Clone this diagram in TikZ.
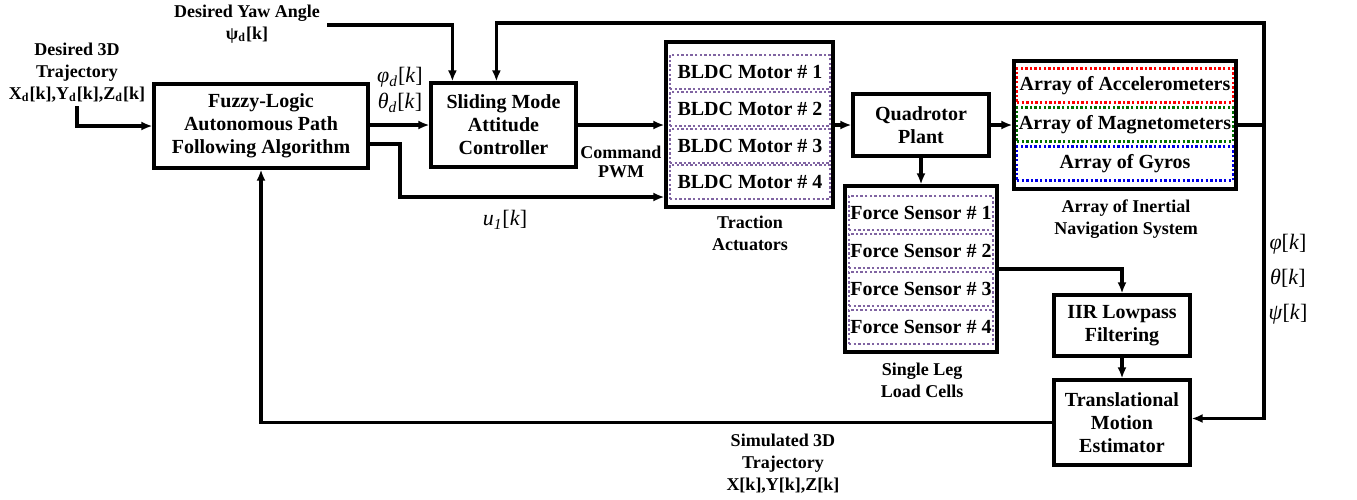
\documentclass[tikz,border=0pt]{standalone}
\usepackage{fontspec}
\setmainfont{Liberation Serif}
\usetikzlibrary{arrows.meta,calc}
\definecolor{purp}{RGB}{128,100,162}
\definecolor{dgreen}{RGB}{0,112,0}
\definecolor{dblue}{RGB}{0,0,230}
\newcommand{\myBx}{\bfseries\fontsize{10}{11.5}\selectfont}
\newcommand{\myLb}{\bfseries\fontsize{9}{11}\selectfont}
\newcommand{\myMa}{\fontsize{11}{13}\selectfont}
\newcommand{\iv}[1]{\textit{#1}}
\begin{document}
\begin{tikzpicture}[x=0.5pt,y=-0.5pt,
  blk/.style={draw, line width=1.6pt, align=center, inner sep=0pt, font=\myBx},
  cellbox/.style={draw=#1, line width=1.2pt, dash pattern=on 1.2pt off 1.1pt, minimum height=17pt, inner sep=0pt, font=\myBx},
  lbl/.style={align=center, inner sep=0pt, font=\myLb},
  mth/.style={align=center, inner sep=0pt, font=\myMa},
  wire/.style={line width=1.6pt},
  arr/.style={wire, -{Latex[length=5.5pt,width=4.5pt]}}]
\useasboundingbox (0,0) rectangle (1357,499);

% main blocks
\node[blk, minimum width=107pt, minimum height=42pt] (fuzzy) at (261,126) {Fuzzy-Logic\\Autonomous Path\\Following Algorithm};
\node[blk, minimum width=72.5pt, minimum height=42pt] (slide) at (503.5,125) {Sliding Mode\\Attitude\\Controller};
\node[blk, minimum width=83.5pt, minimum height=82.5pt] (bldc) at (749.5,124.5) {};
\node[cellbox=purp, minimum width=80pt] (m1) at (750,72) {BLDC Motor \# 1};
\node[cellbox=purp, minimum width=80pt] (m2) at (750,109) {BLDC Motor \# 2};
\node[cellbox=purp, minimum width=80pt] (m3) at (750,146) {BLDC Motor \# 3};
\node[cellbox=purp, minimum width=80pt] (m4) at (750,182) {BLDC Motor \# 4};
\node[blk, minimum width=68pt, minimum height=31pt] (plant) at (921,125) {Quadrotor\\Plant};
\node[blk, minimum width=111pt, minimum height=64pt] (ins) at (1125,125) {};
\node[cellbox=red, minimum width=108pt] (acc) at (1125,85.5) {Array of Accelerometers};
\node[cellbox=dgreen, minimum width=108pt] (mag) at (1125,124.5) {Array of Magnetometers};
\node[cellbox=dblue, minimum width=108pt] (gyr) at (1125,163.5) {Array of Gyros};
\node[blk, minimum width=76pt, minimum height=83pt] (force) at (921,269) {};
\node[cellbox=purp, minimum width=72pt] (f1) at (921,213) {Force Sensor \# 1};
\node[cellbox=purp, minimum width=72pt] (f2) at (921,251) {Force Sensor \# 2};
\node[cellbox=purp, minimum width=72pt] (f3) at (921,289) {Force Sensor \# 3};
\node[cellbox=purp, minimum width=72pt] (f4) at (921,327) {Force Sensor \# 4};
\node[blk, minimum width=68pt, minimum height=30.5pt] (iir) at (1122,325.5) {IIR Lowpass\\Filtering};
\node[blk, minimum width=68pt, minimum height=42.5pt] (trans) at (1122,422.5) {Translational\\Motion\\Estimator};

% labels
\node[lbl] (yaw) at (247,24) {Desired Yaw Angle\\ψ\textsubscript{d}[k]};
\node[lbl] (desT) at (77,73) {Desired 3D\\Trajectory\\X\textsubscript{d}[k],Y\textsubscript{d}[k],Z\textsubscript{d}[k]};
\node[mth] (phth) at (400,90) {\iv{φ}\textsubscript{\iv{d}}[\iv{k}]\\\iv{θ}\textsubscript{\iv{d}}[\iv{k}]};
\node[lbl] (cmd) at (621,162) {Command\\[-1.5pt]PWM};
\node[mth] (u1) at (505,220) {\iv{u}\textsubscript{\iv{1}}[\iv{k}]};
\node[lbl] (tract) at (750,233) {Traction\\Actuators};
\node[lbl] (inslbl) at (1126,219) {Array of Inertial\\Navigation System};
\node[lbl] (leg) at (922,380) {Single Leg\\Load Cells};
\node[mth] (att) at (1288,279) {\iv{φ}[\iv{k}]\\[4.5pt]\iv{θ}[\iv{k}]\\[4.5pt]\iv{ψ}[\iv{k}]};
\node[lbl] (sim) at (783,464) {Simulated 3D\\Trajectory\\X[k],Y[k],Z[k]};

% coordinates
\coordinate (u1a) at (400,144);
\coordinate (u1b) at (400,197);
\coordinate (yawS) at (327,25);
\coordinate (fbTop) at (1264,23);

% connectors
\draw[arr] ([yshift=-1.5pt]desT.south) |- (fuzzy.west);
\draw[arr] (fuzzy.east |- slide.west) -- (slide.west);
\draw[arr] (fuzzy.east |- u1a) -| (u1b) -- (bldc.west |- u1b);
\draw[arr] (slide.east) -- (bldc.west |- slide.east);
\draw[arr] (yawS) -| ([xshift=11.5pt]slide.north west);
\draw[arr] (bldc.east |- plant.west) -- (plant.west);
\draw[arr] (plant.east) -- (ins.west |- plant.east);
\draw[arr] (plant.south) -- (force.north);
\draw[arr] (force.east) -| (iir.north);
\draw[arr] (iir.south) -- (trans.north);
\draw[arr] (ins.east) -| (fbTop) -| ([xshift=33.5pt]slide.north west);
\draw[arr] (ins.east -| fbTop) |- ([yshift=2pt]trans.east);
\draw[arr] (trans.west) -| (fuzzy.south);
\end{tikzpicture}
\end{document}
